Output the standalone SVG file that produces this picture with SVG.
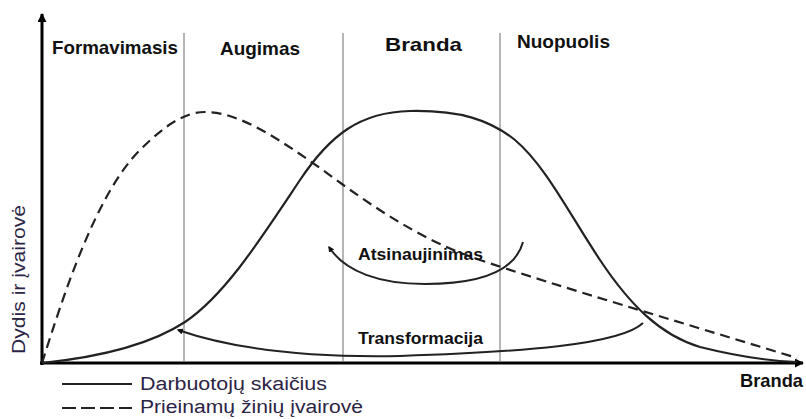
<svg xmlns="http://www.w3.org/2000/svg" width="806" height="419" viewBox="0 0 806 419">
<style>
.phase{font-family:"Liberation Sans",Arial,sans-serif;font-weight:bold;font-size:19px;fill:#111}
.lbl{font-family:"Liberation Sans",Arial,sans-serif;font-weight:bold;font-size:16px;fill:#111}
.leg{font-family:"Liberation Sans",Arial,sans-serif;font-size:18px;fill:#2c2445}
.grid{stroke:#b5b5b5;stroke-width:2}
.axis{stroke:#000;stroke-width:3;fill:none}
.solid{stroke:#222;stroke-width:2.2;fill:none}
.dash{stroke:#222;stroke-width:2.2;fill:none;stroke-dasharray:10 6}
.arc{stroke:#222;stroke-width:2;fill:none;marker-end:url(#ah)}
</style>
<defs>
<marker id="ah" viewBox="0 0 10 10" refX="8" refY="5" markerWidth="6" markerHeight="6" orient="auto" markerUnits="userSpaceOnUse">
<path d="M0,0 L10,5 L0,10 z" fill="#111"/>
</marker>
<marker id="axh" viewBox="0 0 10 10" refX="9" refY="5" markerWidth="9" markerHeight="9" orient="auto" markerUnits="userSpaceOnUse">
<path d="M0,0 L10,5 L0,10 z" fill="#000"/>
</marker>
</defs>
<rect width="806" height="419" fill="#fff"/>
<g id="grid">
<line class="grid" x1="184" y1="33" x2="184" y2="361"/>
<line class="grid" x1="343" y1="33" x2="343" y2="361"/>
<line class="grid" x1="500" y1="33" x2="500" y2="361"/>
</g>
<g id="phases">
<text class="phase" x="52" y="54" textLength="126" lengthAdjust="spacingAndGlyphs">Formavimasis</text>
<text class="phase" x="220" y="55" textLength="80" lengthAdjust="spacingAndGlyphs">Augimas</text>
<text class="phase" x="385" y="51" textLength="77" lengthAdjust="spacingAndGlyphs">Branda</text>
<text class="phase" x="517" y="48" textLength="93" lengthAdjust="spacingAndGlyphs">Nuopuolis</text>
</g>
<g id="axes">
<line class="axis" x1="42" y1="365" x2="42" y2="14" marker-end="url(#axh)"/>
<line class="axis" x1="40" y1="363" x2="803" y2="363" marker-end="url(#axh)"/>
<text class="leg" transform="translate(25,354) rotate(-90)" textLength="149" lengthAdjust="spacingAndGlyphs">Dydis ir įvairovė</text>
<text class="phase" x="740" y="387" textLength="63" lengthAdjust="spacingAndGlyphs">Branda</text>
</g>
<g id="curves">
<path id="employees" class="solid" d="M42,363 C100,357 150,345 185,322 C225,295 260,240 300,180 C330,135 360,112 410,111 C460,110 490,120 515,140 C545,165 570,215 600,260 C630,305 660,335 700,347 C740,357 770,361 797,362"/>
<path id="knowledge" class="dash" d="M42,363 C62,300 95,195 140,150 C165,125 185,112 205,112 C240,112 280,140 320,168 C370,205 420,240 480,260 C560,287 680,322 797,358"/>
</g>
<g id="connectors">
<path id="renewal" class="arc" d="M523,242 C515,272 480,284 425,284 C380,284 345,272 329,247"/>
<path id="transformation" class="arc" d="M643,323 C620,345 520,352 400,356 C300,358 230,348 178,330"/>
</g>
<g id="labels">
<text class="lbl" x="358" y="260" textLength="125" lengthAdjust="spacingAndGlyphs">Atsinaujinimas</text>
<text class="lbl" x="358" y="344" textLength="125" lengthAdjust="spacingAndGlyphs">Transformacija</text>
</g>
<g id="legend">
<line class="solid" x1="62" y1="384" x2="132" y2="384"/>
<text class="leg" x="140" y="390" textLength="187" lengthAdjust="spacingAndGlyphs">Darbuotojų skaičius</text>
<line class="solid" x1="62" y1="408" x2="132" y2="408" stroke-dasharray="14 5"/>
<text class="leg" x="140" y="413" textLength="223" lengthAdjust="spacingAndGlyphs">Prieinamų žinių įvairovė</text>
</g>
</svg>
